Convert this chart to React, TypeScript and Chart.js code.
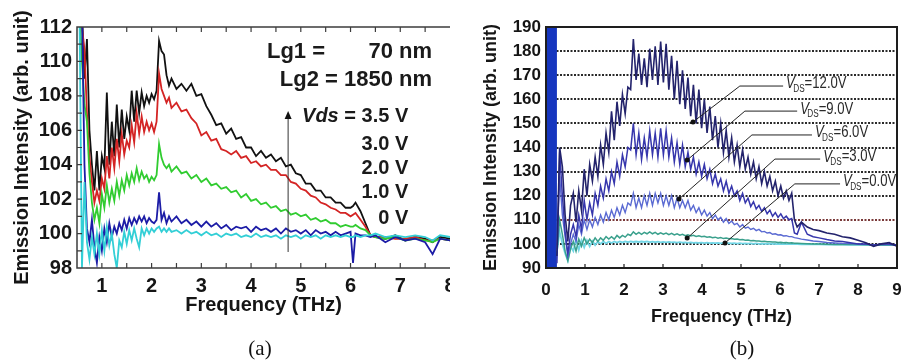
import React, { useEffect, useRef } from "react";
import { Chart, registerables } from "chart.js";
Chart.register(...registerables);

// ---------- Panel (a) data ----------
const freqA = [
  0.55, 0.6, 0.65, 0.7, 0.75, 0.8, 0.85, 0.9, 0.95, 1.0,
  1.05, 1.1, 1.15, 1.2, 1.25, 1.3, 1.35, 1.4, 1.45, 1.5,
  1.55, 1.6, 1.65, 1.7, 1.75, 1.8, 1.85, 1.9, 1.95, 2.0,
  2.05, 2.1, 2.15, 2.2, 2.25, 2.3, 2.35, 2.4, 2.5, 2.6,
  2.7, 2.8, 2.9, 3.0, 3.1, 3.2, 3.3, 3.4, 3.5, 3.6,
  3.7, 3.8, 3.9, 4.0, 4.1, 4.2, 4.3, 4.4, 4.5, 4.6,
  4.7, 4.8, 4.9, 5.0, 5.1, 5.2, 5.3, 5.4, 5.5, 5.6,
  5.7, 5.8, 5.9, 6.0, 6.05, 6.1, 6.2, 6.3, 6.4, 6.5,
  6.7, 6.9, 7.1, 7.3, 7.5, 7.65, 7.8, 8.0,
];
const vds35 = [
  113, 113, 109, 111.3, 106, 104, 102.5, 104.8, 102.5, 104.5,
  103.8, 108.2, 104, 106.5, 104.5, 107.5, 105, 107.2, 105.5, 106.8,
  106, 108.3, 106.5, 108.3, 107, 108.2, 107.4, 108, 107.6, 108.1,
  107.8, 108.3, 111.2, 110.6, 110.4, 109.2, 108.6, 109, 108.4, 108.7,
  108.3, 108.7, 108.0, 108.1, 107.4, 106.9, 106.3, 106.4, 105.8, 106.1,
  105.5, 105.6, 105.0, 105.0, 104.5, 104.8, 104.4, 104.6, 104.2, 104.4,
  103.9, 104.0, 103.5, 103.4, 102.9, 102.9, 102.5, 102.5, 102.1, 102.1,
  101.8, 101.8, 101.5, 101.5, 101.6, 101.8, 101.3, 100.6, 99.9, 99.8,
  99.7, 99.9, 99.6, 99.8, 99.7, 99.5, 99.8, 99.7,
];
const vds30 = [
  113, 112, 110.7, 107, 104.5, 103, 101.8, 102.5, 101.9, 103.2,
  102.6, 104.5, 103.2, 105.0, 103.8, 105.5, 104.2, 105.8, 104.6, 105.4,
  105.0, 106.3, 105.3, 107.0, 105.8, 106.8, 105.9, 106.5, 106.0, 106.4,
  105.9, 106.5, 109.3, 108.4, 108.0, 107.6, 107.9, 107.3, 107.6, 107.1,
  107.2, 106.7, 106.4, 105.7, 105.9, 105.4, 105.5, 104.9, 104.8, 104.6,
  104.8, 104.4, 104.5, 104.1, 104.2, 103.9, 104.0, 103.7, 103.7, 103.4,
  103.4, 103.0, 102.9, 102.6, 102.5, 102.2, 102.1, 101.8, 101.7, 101.5,
  101.4, 101.2, 101.2, 101.0, 101.1, 101.2, 100.8, 100.4, 99.9, 99.8,
  99.8, 99.7, 99.7, 99.8, 99.6, 99.6, 99.7, 99.6,
];
const vds20 = [
  113, 110, 107.5, 106.5, 103.5, 101.8, 100.8, 101.5, 100.6, 102.3,
  101.5, 102.8, 101.8, 102.6, 101.9, 103.0, 102.2, 103.1, 102.5, 103.4,
  102.8, 103.5, 103.0, 103.8, 103.1, 103.6, 103.2, 103.4, 103.0, 103.3,
  103.1, 103.4, 105.2, 104.4, 104.0, 103.8, 104.0, 103.6, 103.9, 103.5,
  103.6, 103.2, 103.4, 103.0, 103.2, 102.8, 102.9, 102.6, 102.7, 102.4,
  102.5, 102.1, 102.3, 101.9, 102.0, 101.7, 101.8, 101.5, 101.6, 101.3,
  101.4, 101.1, 101.2, 101.0, 101.1, 100.8, 100.9, 100.7, 100.8, 100.6,
  100.6, 100.4, 100.5, 100.4, 100.4, 100.5, 100.3, 100.2, 99.9, 99.8,
  99.7, 99.8, 99.6, 99.7, 99.6, 99.5, 99.7, 99.6,
];
const vds10 = [
  113, 113, 104, 100.3, 99.5, 100.8, 99.2, 98.3, 99.8, 99.0,
  100.3, 99.5, 100.6, 99.8, 100.4, 100.0, 100.6, 100.2, 100.8, 100.3,
  100.9, 100.5, 100.9, 100.6, 101.0, 100.7, 101.0, 100.6, 100.9, 100.7,
  100.6, 100.8, 102.4, 100.8, 101.2, 100.6, 101.0, 100.7, 101.0, 100.6,
  100.8, 100.5, 100.7, 100.4, 100.7, 100.4, 100.6, 100.3, 100.5, 100.2,
  100.4, 100.3, 100.4, 100.1, 100.4, 100.2, 100.3, 100.1, 100.3, 100.0,
  100.3, 100.1, 100.2, 100.0, 100.2, 99.9, 100.2, 100.0, 100.1, 99.9,
  100.1, 99.9, 100.0, 100.1, 98.3, 100.0, 99.9, 99.9, 99.8, 99.9,
  99.5, 99.8, 99.6, 99.7, 99.5, 98.8, 99.7, 99.6,
];
const vds00 = [
  113, 98, 103, 99.5, 98.5, 99.8, 98.8, 100.0, 98.8, 100.2,
  99.0, 100.4, 99.3, 100.0, 98.8, 98.0, 99.6, 99.2, 100.1, 99.4,
  100.2, 99.6, 100.3, 99.7, 99.2, 100.3, 99.9, 100.3, 100.0, 100.3,
  100.1, 100.3, 100.4, 100.1, 100.3, 100.1, 100.3, 100.1, 100.2, 100.0,
  100.2, 100.0, 100.1, 99.9, 100.1, 99.9, 100.0, 99.8, 100.0, 99.9,
  100.0, 99.8, 99.9, 99.8, 100.0, 99.8, 99.9, 99.8, 99.9, 99.7,
  99.9, 99.8, 99.9, 99.7, 99.9, 99.8, 99.9, 99.7, 99.9, 99.8,
  99.9, 99.8, 99.9, 99.8, 99.8, 99.9, 99.8, 99.9, 99.9, 100.0,
  99.8, 99.9, 99.8, 99.9, 99.8, 99.6, 99.9, 99.8,
];
const xTicksA = [1, 2, 3, 4, 5, 6, 7, 8];
const yTicksA = [98, 100, 102, 104, 106, 108, 110, 112];
const xMinorA = [1, 1.5, 2, 2.5, 3, 3.5, 4, 4.5, 5, 5.5, 6, 6.5, 7, 7.5];
const yMinorA = [99, 100, 101, 102, 103, 104, 105, 106, 107, 108, 109, 110, 111];

// ---------- Panel (b) data ----------
const freqB = [
  0.28, 0.35, 0.42, 0.49, 0.56, 0.63, 0.70, 0.77, 0.84, 0.91,
  0.98, 1.05, 1.12, 1.19, 1.26, 1.33, 1.40, 1.47, 1.54, 1.61,
  1.68, 1.75, 1.82, 1.89, 1.96, 2.03, 2.10, 2.17, 2.24, 2.31,
  2.38, 2.45, 2.52, 2.59, 2.66, 2.73, 2.80, 2.87, 2.94, 3.01,
  3.08, 3.15, 3.22, 3.29, 3.36, 3.43, 3.50, 3.57, 3.64, 3.71,
  3.78, 3.85, 3.92, 3.99, 4.06, 4.13, 4.20, 4.27, 4.34, 4.41,
  4.48, 4.55, 4.62, 4.69, 4.76, 4.83, 4.90, 4.97, 5.04, 5.11,
  5.18, 5.25, 5.32, 5.39, 5.46, 5.53, 5.60, 5.67, 5.74, 5.81,
  5.88, 5.95, 6.02, 6.09, 6.16, 6.23, 6.30, 6.37, 6.44, 6.55,
  6.70, 6.85, 7.00, 7.20, 7.40, 7.60, 7.80, 8.00, 8.20, 8.40,
  8.60, 8.80, 9.00,
];
const vds12 = [
  95, 140, 132, 112, 101, 116, 121, 109, 122, 114,
  131, 120, 133, 126, 136, 128, 141, 133, 146, 138,
  155, 143, 159, 149, 162, 154, 165, 164, 185, 168,
  179, 166, 177, 165, 181, 168, 182, 166, 184, 167,
  183, 164, 178, 160, 176, 158, 172, 156, 169, 153,
  166, 150, 164, 148, 160, 146, 157, 143, 153, 140,
  150, 138, 147, 136, 144, 134, 141, 132, 139, 131,
  136, 129, 134, 127, 132, 125, 130, 124, 128, 122,
  126, 120, 124, 119, 122, 118, 121, 110, 107, 109,
  107, 106, 105.5, 104.5, 104, 103, 102.5, 101.5, 100.5, 99,
  100, 100.5, 99,
];
const vds9 = [
  92, 138, 120, 105, 96, 104, 108, 103, 112, 106,
  118, 110, 117, 112, 121, 116, 124, 119, 127, 122,
  130, 125, 134, 128, 137, 132, 140, 139, 150, 137,
  146, 135, 144, 136, 147, 137, 146, 136, 148, 137,
  147, 136, 144, 134, 142, 133, 141, 132, 138, 131,
  136, 129, 134, 128, 133, 127, 131, 125, 129, 124,
  127, 122, 126, 121, 124, 120, 122, 118, 121, 117,
  119, 115.5, 117.5, 114.5, 116, 113.5, 115, 112.5, 114, 111.5,
  113, 111, 112.5, 110.5, 111.5, 110, 110.5, 104.5, 104, 109,
  104, 103, 102.5, 101.8, 101.2, 101, 100.5, 100, 100, 99.5,
  100, 100, 99.5,
];
const vds6 = [
  98, 128, 112, 103, 95, 100, 104, 101, 108, 104,
  110, 106, 110, 107, 111, 108, 112, 109, 113, 110,
  114, 111, 115, 112, 116, 113, 117, 116, 121, 115,
  119, 115, 120, 116, 121, 116, 121, 117, 121, 116,
  120, 116, 120, 115, 119, 115, 118, 115, 118, 114,
  116, 113, 115, 112, 114, 111.5, 113, 110.5, 112, 110,
  111, 109, 110.5, 108.5, 109.5, 108, 108.5, 107, 108, 106.5,
  107, 106, 106.5, 105.5, 106, 105, 105.2, 104.5, 104.7, 104,
  104.2, 103.7, 103.8, 103.3, 103.4, 103, 103, 102.6, 102.4, 102,
  101.6, 101.2, 101, 100.6, 100.4, 100.2, 100.1, 100, 99.8, 99.6,
  99.8, 99.7, 99.5,
];
const vds3 = [
  96, 110, 104, 97, 93, 98, 101, 97, 102, 99,
  102.5, 100, 102, 100.5, 102.5, 101, 102.5, 101.5, 103, 102,
  103, 102, 103.5, 102.5, 103.5, 102.8, 104, 103.5, 105, 104,
  104.8, 104, 104.8, 104.2, 105, 104.2, 104.8, 104, 104.6, 104,
  104.5, 103.8, 104.4, 103.7, 104.2, 103.6, 104, 103.4, 103.8, 103.3,
  103.6, 103.1, 103.4, 103, 103.2, 102.8, 103, 102.6, 102.8, 102.4,
  102.6, 102.2, 102.4, 102.1, 102.2, 101.9, 102, 101.7, 101.8, 101.5,
  101.6, 101.3, 101.4, 101.2, 101.2, 101, 101.1, 100.9, 100.9, 100.8,
  100.8, 100.6, 100.7, 100.5, 100.6, 100.4, 100.5, 100.3, 100.3, 100.2,
  100.1, 100, 100, 99.9, 99.8, 99.8, 99.7, 99.7, 99.6, 99.6,
  99.5, 99.5, 99.4,
];
const vds0 = [
  97, 105, 100, 96, 93, 99, 97, 102, 97.5, 101.5,
  98.5, 101.5, 99, 101.2, 99.5, 101, 100, 101, 100.2, 101,
  100.4, 101, 100.5, 101, 100.6, 101, 100.7, 101, 100.8, 101,
  100.8, 101, 100.8, 101, 100.7, 100.9, 100.7, 100.9, 100.6, 100.8,
  100.6, 100.8, 100.6, 100.7, 100.5, 100.7, 100.5, 100.6, 100.4, 100.6,
  100.4, 100.5, 100.4, 100.5, 100.3, 100.5, 100.3, 100.4, 100.3, 100.4,
  100.2, 100.4, 100.2, 100.3, 100.2, 100.3, 100.1, 100.3, 100.1, 100.2,
  100.1, 100.2, 100, 100.2, 100, 100.1, 100, 100.1, 100, 100.1,
  99.9, 100, 99.9, 100, 99.9, 100, 99.9, 99.9, 99.9, 99.8,
  99.8, 99.8, 99.8, 99.7, 99.7, 99.7, 99.6, 99.6, 99.6, 99.5,
  99.5, 99.5, 99.5,
];
// saturated low-frequency band (0 - 0.28 THz)
const bandFreq = [0, 0.28];
const bandLevel = [190, 190];
const xTicksB = [0, 1, 2, 3, 4, 5, 6, 7, 8, 9];
const yTicksB = [90, 100, 110, 120, 130, 140, 150, 160, 170, 180, 190];
const gridB = [100, 110, 120, 130, 140, 150, 160, 170, 180];

// leader annotations of panel (b)
const leaderVolts = ["12.0", "9.0", "6.0", "3.0", "0.0"];
const leaderDotF = [3.77, 3.62, 3.41, 3.62, 4.59];
const leaderDotV = [150.6, 134.8, 118.6, 102.4, 100.4];
const leaderElbowF = [4.97, 5.1, 5.28, 5.87, 6.38];
const leaderElbowV = [165.5, 155.1, 145.2, 135.2, 124.9];
const leaderEndF = [6.08, 6.44, 6.82, 7.03, 7.54];

const pts = (xs: number[], ys: number[]) => xs.map((x, i) => ({ x, y: ys[i] }));

const SANS = '"Liberation Sans", Arial, sans-serif';

const line = (label: string, xs: number[], ys: number[], color: string, w: number) => ({
  label,
  data: pts(xs, ys),
  borderColor: color,
  backgroundColor: color,
  borderWidth: w,
  pointRadius: 0,
  tension: 0,
  fill: false,
});

const frameA = {
  id: "frameA",
  afterDraw(chart: any) {
    const { ctx, chartArea, scales } = chart;
    const { left, right, top, bottom } = chartArea;
    const x = scales.x, y = scales.y;
    ctx.save();
    ctx.strokeStyle = "#3c3c3c";
    ctx.lineWidth = 1.5;
    ctx.beginPath();
    ctx.moveTo(right + 2, top);
    ctx.lineTo(left, top);
    ctx.lineTo(left, bottom);
    ctx.lineTo(right + 2, bottom);
    ctx.stroke();
    ctx.lineWidth = 1.2;
    ctx.beginPath();
    for (const v of xMinorA) {
      const px = x.getPixelForValue(v);
      ctx.moveTo(px, top);
      ctx.lineTo(px, top + 5);
      ctx.moveTo(px, bottom);
      ctx.lineTo(px, bottom - 5);
    }
    for (const v of yMinorA) {
      const py = y.getPixelForValue(v);
      ctx.moveTo(left, py);
      ctx.lineTo(left + 5, py);
    }
    ctx.stroke();

    // annotation text
    ctx.fillStyle = "#1a1a1a";
    ctx.textBaseline = "middle";
    ctx.font = `bold 22px ${SANS}`;
    const lgLeft = x.getPixelForValue(4.32);
    const lgRight = x.getPixelForValue(7.64);
    ctx.textAlign = "left";
    ctx.fillText("Lg1 =", lgLeft, y.getPixelForValue(110.56));
    ctx.textAlign = "right";
    ctx.fillText("70 nm", lgRight, y.getPixelForValue(110.56));
    ctx.fillText("Lg2 = 1850 nm", lgRight, y.getPixelForValue(108.93));

    // Vds labels
    const vRight = x.getPixelForValue(7.16);
    ctx.font = `bold 20px ${SANS}`;
    const rest = " = 3.5 V";
    const wRest = ctx.measureText(rest).width;
    ctx.fillText(rest, vRight, y.getPixelForValue(106.78));
    ctx.font = `italic bold 20px ${SANS}`;
    ctx.fillText("Vds", vRight - wRest, y.getPixelForValue(106.78));
    ctx.font = `bold 20px ${SANS}`;
    const rows: [string, number][] = [["3.0 V", 105.2], ["2.0 V", 103.8], ["1.0 V", 102.36], ["0 V", 100.9]];
    for (const [t, v] of rows) ctx.fillText(t, vRight, y.getPixelForValue(v));

    // arrow
    const ax = x.getPixelForValue(4.745);
    const ay0 = y.getPixelForValue(98.93);
    const ay1 = y.getPixelForValue(107.0);
    ctx.strokeStyle = "#333";
    ctx.lineWidth = 1;
    ctx.beginPath();
    ctx.moveTo(ax, ay0);
    ctx.lineTo(ax, ay1 + 4);
    ctx.stroke();
    ctx.fillStyle = "#111";
    ctx.beginPath();
    ctx.moveTo(ax, ay1 - 2);
    ctx.lineTo(ax - 3.5, ay1 + 6);
    ctx.lineTo(ax + 3.5, ay1 + 6);
    ctx.closePath();
    ctx.fill();
    ctx.restore();
  },
};

const frameB = {
  id: "frameB",
  beforeDatasetsDraw(chart: any) {
    const { ctx, chartArea, scales } = chart;
    const { left, right } = chartArea;
    ctx.save();
    ctx.lineWidth = 2;
    ctx.setLineDash([2, 1.5]);
    for (const v of gridB) {
      const py = Math.round(scales.y.getPixelForValue(v));
      ctx.strokeStyle = v === 110 ? "#7a3a3a" : "#2a2a2a";
      ctx.beginPath();
      ctx.moveTo(left, py);
      ctx.lineTo(right, py);
      ctx.stroke();
    }
    ctx.restore();
  },
  afterDatasetsDraw(chart: any) {
    const { ctx, chartArea, scales } = chart;
    const { left, right, top, bottom } = chartArea;
    const x = scales.x, y = scales.y;
    ctx.save();
    ctx.strokeStyle = "#1e1e1e";
    ctx.lineWidth = 2;
    ctx.strokeRect(left, top, right - left, bottom - top);
    ctx.lineWidth = 1.2;
    ctx.beginPath();
    for (const v of xTicksB) {
      const px = x.getPixelForValue(v);
      ctx.moveTo(px, bottom);
      ctx.lineTo(px, bottom - 4);
    }
    ctx.stroke();

    // leaders
    for (let i = 0; i < leaderVolts.length; i++) {
      const dx = x.getPixelForValue(leaderDotF[i]);
      const dy = y.getPixelForValue(leaderDotV[i]);
      const ex = x.getPixelForValue(leaderElbowF[i]);
      const ey = y.getPixelForValue(leaderElbowV[i]);
      const fx = x.getPixelForValue(leaderEndF[i]);
      ctx.strokeStyle = "#222";
      ctx.lineWidth = 1;
      ctx.beginPath();
      ctx.moveTo(dx, dy);
      ctx.lineTo(ex, ey);
      ctx.lineTo(fx, ey);
      ctx.stroke();
      ctx.fillStyle = "#111";
      ctx.beginPath();
      ctx.arc(dx, dy, 2.5, 0, Math.PI * 2);
      ctx.fill();
      // label
      ctx.save();
      ctx.translate(fx + 3, ey - 2);
      ctx.scale(0.82, 1);
      ctx.fillStyle = "#2a2a2a";
      ctx.textAlign = "left";
      ctx.textBaseline = "middle";
      ctx.font = `italic 16px ${SANS}`;
      ctx.fillText("V", 0, 0);
      let w = ctx.measureText("V").width;
      ctx.font = `10px ${SANS}`;
      ctx.fillText("DS", w - 2, 5);
      w += ctx.measureText("DS").width - 2;
      ctx.font = `16px ${SANS}`;
      ctx.fillText("=" + leaderVolts[i] + "V", w, 0);
      ctx.restore();
    }
    ctx.restore();
  },
};

function makeA(canvas: HTMLCanvasElement) {
  return new Chart(canvas, {
    type: "line",
    data: {
      datasets: [
        line("0 V", freqA, vds00, "#33cfd6", 1.8),
        line("1.0 V", freqA, vds10, "#1c1ca6", 1.8),
        line("2.0 V", freqA, vds20, "#30cc30", 1.8),
        line("3.0 V", freqA, vds30, "#d42424", 1.8),
        line("3.5 V", freqA, vds35, "#111111", 1.8),
      ],
    },
    options: {
      animation: false,
      responsive: false,
      maintainAspectRatio: false,
      layout: { padding: { top: 27, right: 0, bottom: 0, left: 0 } },
      plugins: { legend: { display: false }, tooltip: { enabled: false } },
      scales: {
        x: {
          type: "linear",
          min: 0.5,
          max: 8,
          afterBuildTicks: (s: any) => { s.ticks = xTicksA.map((v) => ({ value: v })); },
          afterFit: (s: any) => { s.height = 94; s.paddingLeft = 0; s.paddingRight = 0; },
          grid: { display: false, drawTicks: false },
          border: { display: false },
          ticks: { padding: 6, color: "#151515", font: { family: SANS, size: 20, weight: "bold" }, maxRotation: 0, autoSkip: false },
          title: { display: true, text: "Frequency (THz)", color: "#151515", font: { family: SANS, size: 20, weight: "bold" }, padding: { top: 0, bottom: 45 } },
        },
        y: {
          min: 98,
          max: 112,
          afterBuildTicks: (s: any) => { s.ticks = yTicksA.map((v) => ({ value: v })); },
          afterFit: (s: any) => { s.width = 77; s.paddingTop = 0; s.paddingBottom = 0; },
          grid: { display: false, drawTicks: false },
          border: { display: false },
          ticks: { padding: 5, color: "#151515", font: { family: SANS, size: 20, weight: "bold" }, autoSkip: false },
          title: { display: true, text: "Emission Intensity (arb. unit)", color: "#151515", font: { family: SANS, size: 20, weight: "bold" }, padding: { top: 10, bottom: 0 } },
        },
      },
    },
    plugins: [frameA],
  } as any);
}

function makeB(canvas: HTMLCanvasElement) {
  return new Chart(canvas, {
    type: "line",
    data: {
      datasets: [
        line("VDS=12.0V", freqB, vds12, "#23236c", 1.6),
        line("VDS=9.0V", freqB, vds9, "#3636ac", 1.5),
        line("VDS=6.0V", freqB, vds6, "#5a6ad2", 1.4),
        line("VDS=3.0V", freqB, vds3, "#3aa08c", 1.5),
        line("VDS=0.0V", freqB, vds0, "#72d6e6", 1.8),
        {
          label: "band",
          data: pts(bandFreq, bandLevel),
          borderColor: "#1636bf",
          backgroundColor: "#1636bf",
          borderWidth: 1,
          pointRadius: 0,
          fill: "start",
        },
      ],
    },
    options: {
      animation: false,
      responsive: false,
      maintainAspectRatio: false,
      layout: { padding: { top: 27, right: 4, bottom: 0, left: 0 } },
      plugins: { legend: { display: false }, tooltip: { enabled: false } },
      scales: {
        x: {
          type: "linear",
          min: 0,
          max: 9,
          afterBuildTicks: (s: any) => { s.ticks = xTicksB.map((v) => ({ value: v })); },
          afterFit: (s: any) => { s.height = 94; s.paddingLeft = 0; s.paddingRight = 0; },
          grid: { display: false, drawTicks: false },
          border: { display: false },
          ticks: { padding: 12, color: "#151515", font: { family: SANS, size: 17, weight: "bold" }, maxRotation: 0, autoSkip: false },
          title: { display: true, text: "Frequency (THz)", color: "#151515", font: { family: SANS, size: 18, weight: "bold" }, padding: { top: 0, bottom: 34 } },
        },
        y: {
          min: 90,
          max: 190,
          afterBuildTicks: (s: any) => { s.ticks = yTicksB.map((v) => ({ value: v })); },
          afterFit: (s: any) => { s.width = 96; s.paddingTop = 0; s.paddingBottom = 0; },
          grid: { display: false, drawTicks: false },
          border: { display: false },
          ticks: { padding: 5, color: "#151515", font: { family: SANS, size: 17, weight: "bold" }, autoSkip: false },
          title: { display: true, text: "Emission Intensity (arb. unit)", color: "#151515", font: { family: SANS, size: 18, weight: "bold" }, padding: { top: 30, bottom: 0 } },
        },
      },
    },
    plugins: [frameB],
  } as any);
}

const captionStyle = (cx: number): React.CSSProperties => ({
  position: "absolute",
  left: cx - 50,
  top: 335,
  width: 100,
  textAlign: "center",
  fontFamily: '"Liberation Serif", "Times New Roman", serif',
  fontSize: 21,
  lineHeight: "26px",
  color: "#111",
});

export default function App() {
  const refA = useRef<HTMLCanvasElement>(null);
  const refB = useRef<HTMLCanvasElement>(null);
  useEffect(() => {
    const a = makeA(refA.current!);
    const b = makeB(refB.current!);
    return () => {
      a.destroy();
      b.destroy();
    };
  }, []);
  return (
    <div style={{ position: "absolute", left: 0, top: 0, width: 901, height: 362, background: "#fff", overflow: "hidden" }}>
      <canvas ref={refA} width={450} height={362} style={{ position: "absolute", left: 0, top: 0 }} />
      <canvas ref={refB} width={451} height={362} style={{ position: "absolute", left: 450, top: 0 }} />
      <div style={captionStyle(260)}>(a)</div>
      <div style={captionStyle(742)}>(b)</div>
    </div>
  );
}
